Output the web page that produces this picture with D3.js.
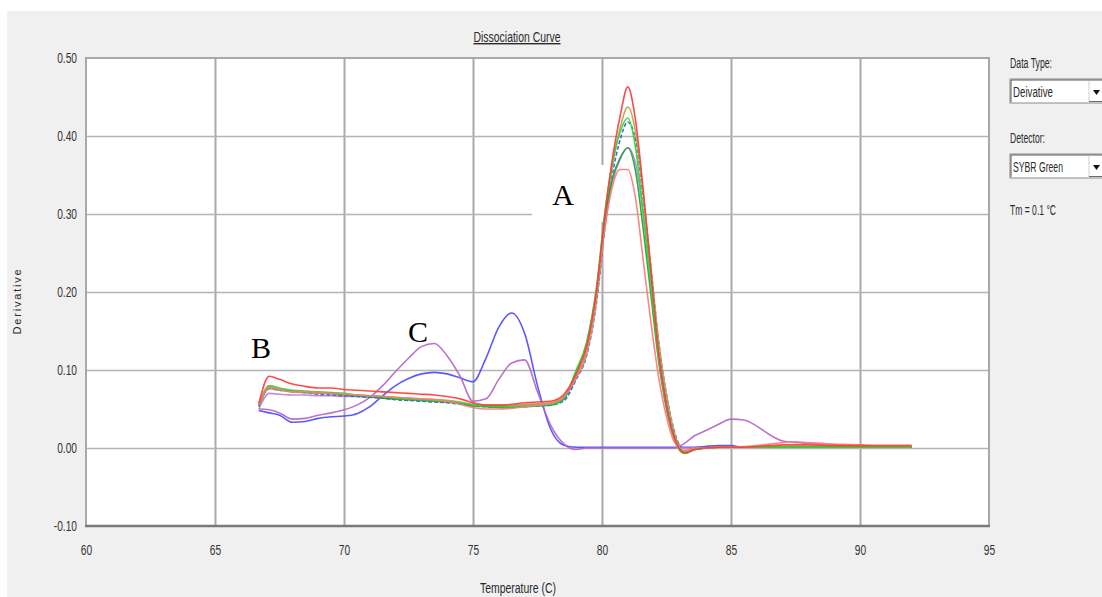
<!DOCTYPE html>
<html>
<head>
<meta charset="utf-8">
<script src="https://cdn.jsdelivr.net/npm/d3@7"></script>
<style>
  html, body { margin: 0; padding: 0; background: #ffffff; }
  svg { display: block; }
  .tick text { font-family: "Liberation Sans", Arial, sans-serif; fill: #333333; }
  .ui { font-family: "Liberation Sans", Arial, sans-serif; fill: #2a2a2a; }
  .ann { font-family: "Liberation Serif", "DejaVu Serif", serif; fill: #000; }
</style>
</head>
<body>
<svg id="chart" width="1102" height="597"></svg>
<script>
// ---------------- DATA ----------------
const temps = [66.7, 67.1, 67.5, 68.0, 68.5, 69.0, 69.5, 70.0, 70.5, 71.0, 71.5, 72.0, 72.5, 73.0, 73.5, 74.0, 74.5, 75.0, 75.5, 76.0, 76.5, 77.0, 77.5, 78.0, 78.5,
               79.0, 79.4, 79.8, 80.1, 80.4, 80.7, 81.0, 81.3, 81.6, 81.9, 82.2, 82.5, 82.8, 83.2, 83.6, 84.0,
               84.5, 85.0, 85.5, 86.0, 86.5, 87.0, 87.5, 88.0, 89.0, 90.0, 91.0, 92.0];

const redHigh = [0.057, 0.092, 0.088, 0.082, 0.079, 0.077, 0.077, 0.075, 0.074, 0.073, 0.072, 0.071, 0.070, 0.069, 0.068, 0.066, 0.063, 0.058, 0.055, 0.055, 0.056, 0.058, 0.059, 0.060, 0.068,
                 0.095, 0.130, 0.205, 0.295, 0.370, 0.425, 0.463, 0.420, 0.330, 0.225, 0.120, 0.055, 0.014, -0.006, -0.002, 0.000,
                 0.001, 0.001, 0.001, 0.002, 0.003, 0.004, 0.004, 0.004, 0.003, 0.003, 0.003, 0.003];

const pinkLow = [0.055, 0.078, 0.075, 0.072, 0.072, 0.071, 0.070, 0.069, 0.068, 0.067, 0.066, 0.065, 0.064, 0.063, 0.062, 0.060, 0.056, 0.052, 0.050, 0.050, 0.051, 0.053, 0.055, 0.057, 0.065,
                 0.092, 0.125, 0.200, 0.280, 0.335, 0.357, 0.357, 0.320, 0.240, 0.160, 0.090, 0.040, 0.008, -0.003, 0.000, 0.000,
                 0.001, 0.001, 0.002, 0.003, 0.005, 0.007, 0.008, 0.007, 0.005, 0.004, 0.003, 0.003];

const olive = [0.058, 0.076, 0.074, 0.072, 0.071, 0.070, 0.070, 0.069, 0.068, 0.067, 0.066, 0.065, 0.064, 0.063, 0.062, 0.061, 0.059, 0.056, 0.055, 0.055, 0.055, 0.056, 0.057, 0.058, 0.066,
               0.090, 0.120, 0.195, 0.285, 0.360, 0.410, 0.437, 0.405, 0.325, 0.230, 0.135, 0.068, 0.020, -0.005, -0.001, 0.000,
               0.001, 0.001, 0.001, 0.001, 0.002, 0.002, 0.002, 0.002, 0.002, 0.002, 0.002, 0.002];

const green = [0.055, 0.080, 0.077, 0.074, 0.073, 0.072, 0.071, 0.070, 0.068, 0.067, 0.066, 0.064, 0.063, 0.062, 0.061, 0.060, 0.058, 0.055, 0.054, 0.053, 0.053, 0.054, 0.055, 0.056, 0.063,
               0.100, 0.135, 0.210, 0.300, 0.365, 0.405, 0.423, 0.385, 0.300, 0.205, 0.115, 0.052, 0.012, -0.007, -0.002, 0.000,
               0.001, 0.001, 0.001, 0.001, 0.001, 0.001, 0.001, 0.001, 0.001, 0.001, 0.001, 0.001];

const teal = [0.054, 0.076, 0.074, 0.072, 0.071, 0.069, 0.068, 0.067, 0.066, 0.065, 0.064, 0.062, 0.061, 0.060, 0.059, 0.058, 0.056, 0.054, 0.053, 0.052, 0.052, 0.053, 0.054, 0.055, 0.060,
              0.088, 0.118, 0.190, 0.280, 0.350, 0.395, 0.418, 0.395, 0.320, 0.230, 0.135, 0.068, 0.022, -0.004, 0.000, 0.000,
              0.001, 0.001, 0.001, 0.001, 0.001, 0.001, 0.001, 0.001, 0.001, 0.001, 0.001, 0.001];

const darkGreen = [0.053, 0.078, 0.075, 0.073, 0.072, 0.071, 0.070, 0.068, 0.067, 0.066, 0.064, 0.063, 0.062, 0.061, 0.060, 0.059, 0.057, 0.054, 0.053, 0.052, 0.052, 0.053, 0.054, 0.055, 0.062,
                   0.098, 0.133, 0.205, 0.290, 0.345, 0.372, 0.385, 0.355, 0.280, 0.195, 0.110, 0.050, 0.012, -0.007, -0.002, 0.000,
                   0.001, 0.001, 0.001, 0.001, 0.001, 0.001, 0.001, 0.001, 0.001, 0.001, 0.001, 0.001];

const violet = [0.050, 0.070, 0.069, 0.068, 0.068, 0.067, 0.067, 0.066, 0.066, 0.065, 0.064, 0.063, 0.062, 0.061, 0.060, 0.059, 0.057, 0.055, 0.054, 0.054, 0.054, 0.055, 0.056, 0.057, 0.064,
                0.090, 0.122, 0.195, 0.280, 0.340, 0.370, 0.385, 0.365, 0.300, 0.215, 0.125, 0.060, 0.016, 0.000, 0.000, 0.000,
                0.001, 0.001, 0.001, 0.001, 0.001, 0.002, 0.002, 0.002, 0.002, 0.002, 0.002, 0.002];

const blueB = [0.048, 0.045, 0.042, 0.033, 0.034, 0.038, 0.040, 0.041, 0.044, 0.053, 0.067, 0.080, 0.089, 0.095, 0.097, 0.095, 0.090, 0.085, 0.115, 0.155, 0.173, 0.147, 0.080, 0.025, 0.004,
               0.001, 0.001, 0.001, 0.001, 0.001, 0.001, 0.001, 0.001, 0.001, 0.001, 0.001, 0.001, 0.001, 0.001, 0.001, 0.002,
               0.003, 0.003, 0.001, 0.001, 0.001, 0.001, 0.001, 0.001, 0.001, 0.001, 0.001, 0.001];

const purpleC = [0.050, 0.049, 0.045, 0.037, 0.038, 0.042, 0.045, 0.049, 0.055, 0.065, 0.080, 0.098, 0.115, 0.130, 0.134, 0.118, 0.092, 0.060, 0.063, 0.088, 0.109, 0.113, 0.072, 0.030, 0.006,
                 -0.002, 0.000, 0.000, 0.000, 0.000, 0.000, 0.000, 0.000, 0.000, 0.000, 0.000, 0.000, 0.000, 0.006, 0.016, 0.022,
                 0.030, 0.037, 0.036, 0.028, 0.017, 0.009, 0.007, 0.006, 0.004, 0.003, 0.002, 0.002];

const xTicks = [60, 65, 70, 75, 80, 85, 90, 95];
const yTicks = [-0.10, 0.00, 0.10, 0.20, 0.30, 0.40, 0.50];

// ---------------- STYLES ----------------
const series = [
  { values: blueB,     color: "#4b4bff", dash: null },
  { values: purpleC,   color: "#b466c8", dash: null },
  { values: violet,    color: "#b884e0", dash: null },
  { values: teal,      color: "#2f62d4", dash: "4,2" },
  { values: olive,     color: "#b9a458", dash: null },
  { values: darkGreen, color: "#1ea43a", dash: null },
  { values: green,     color: "#2fd72f", dash: null },
  { values: pinkLow,   color: "#ff7a7a", dash: null },
  { values: redHigh,   color: "#ff3c3c", dash: null }
];

const svg = d3.select("#chart");
const W = 1102, H = 597;
const plot = { left: 86, right: 989, top: 58, bottom: 526 };

// squeeze text horizontally to mimic the condensed UI font
function squeeze(sel, k) {
  sel.each(function () {
    const w = this.getComputedTextLength();
    d3.select(this).attr("textLength", w * k).attr("lengthAdjust", "spacingAndGlyphs");
  });
}
function fitTo(sel, w) {
  sel.attr("textLength", w).attr("lengthAdjust", "spacingAndGlyphs");
}

svg.append("rect").attr("x", 0).attr("y", 0).attr("width", W).attr("height", H).attr("fill", "#ffffff");
svg.append("rect").attr("x", 7).attr("y", 11).attr("width", W - 7).attr("height", H - 11).attr("fill", "#f0f0f0");

const x = d3.scaleLinear().domain([60, 95]).range([plot.left, plot.right]);
const y = d3.scaleLinear().domain([-0.10, 0.50]).range([plot.bottom, plot.top]);

svg.append("rect")
  .attr("x", plot.left).attr("y", plot.top)
  .attr("width", plot.right - plot.left).attr("height", plot.bottom - plot.top)
  .attr("fill", "#ffffff");

// grid
const gx = svg.append("g").attr("transform", `translate(0,${plot.bottom})`)
  .call(d3.axisBottom(x).tickValues(xTicks.slice(1, -1)).tickSize(-(plot.bottom - plot.top)).tickFormat(""));
gx.select(".domain").remove();
gx.selectAll("line").attr("stroke", "#a9a9a9").attr("stroke-width", 2);

const gy = svg.append("g").attr("transform", `translate(${plot.left},0)`)
  .call(d3.axisLeft(y).tickValues(yTicks.slice(1, -1)).tickSize(-(plot.right - plot.left)).tickFormat(""));
gy.select(".domain").remove();
gy.selectAll("line").attr("stroke", "#b4b4b4").attr("stroke-width", 1.6);

// white patch behind the "A" label
svg.append("rect").attr("x", 532).attr("y", 165).attr("width", 72).attr("height", 57).attr("fill", "#ffffff");

// curves
const line = d3.line()
  .x((d, i) => x(temps[i]))
  .y(d => y(d))
  .curve(d3.curveMonotoneX);

svg.append("g").selectAll("path").data(series).join("path")
  .attr("d", s => line(s.values))
  .attr("fill", "none")
  .attr("stroke", s => s.color)
  .attr("stroke-width", 1.6)
  .attr("stroke-linejoin", "round")
  .attr("stroke-dasharray", s => s.dash)
  .attr("opacity", 0.92);

// border
svg.append("path")
  .attr("d", `M${plot.left},${plot.bottom} L${plot.left},${plot.top} L${plot.right},${plot.top} L${plot.right},${plot.bottom}`)
  .attr("fill", "none").attr("stroke", "#a8a8a8").attr("stroke-width", 2);
svg.append("line")
  .attr("x1", plot.left - 1).attr("x2", plot.right + 1).attr("y1", plot.bottom).attr("y2", plot.bottom)
  .attr("stroke", "#7a7a7a").attr("stroke-width", 2.5);

// tick labels
const fmtY = v => d3.format(".2f")(v).replace("\u2212", "-");
const ax = svg.append("g").attr("transform", `translate(0,${plot.bottom})`)
  .call(d3.axisBottom(x).tickValues(xTicks).tickSize(0).tickPadding(18).tickFormat(d3.format("d")));
ax.select(".domain").remove();
ax.selectAll("text").attr("font-size", 15).call(squeeze, 0.68);

const ay = svg.append("g").attr("transform", `translate(${plot.left},0)`)
  .call(d3.axisLeft(y).tickValues(yTicks).tickSize(0).tickPadding(9).tickFormat(fmtY));
ay.select(".domain").remove();
ay.selectAll("text").attr("font-size", 15).call(squeeze, 0.68);

// titles
svg.append("text").attr("class", "ui").attr("x", 517).attr("y", 42)
  .attr("text-anchor", "middle").attr("font-size", 14).attr("text-decoration", "underline")
  .text("Dissociation Curve").call(fitTo, 87);
svg.append("text").attr("class", "ui").attr("x", 518).attr("y", 593)
  .attr("text-anchor", "middle").attr("font-size", 14)
  .text("Temperature (C)").call(fitTo, 76);
svg.append("text")
  .attr("transform", "translate(21,301) rotate(-90)")
  .attr("text-anchor", "middle")
  .attr("font-family", "Liberation Sans, Arial, sans-serif")
  .attr("font-size", 11).attr("letter-spacing", 1.8).attr("fill", "#2a2a2a")
  .text("Derivative");

// annotations
svg.append("text").attr("class", "ann").attr("x", 563).attr("y", 205).attr("text-anchor", "middle").attr("font-size", 30).text("A");
svg.append("text").attr("class", "ann").attr("x", 261).attr("y", 358).attr("text-anchor", "middle").attr("font-size", 30).text("B");
svg.append("text").attr("class", "ann").attr("x", 418).attr("y", 342).attr("text-anchor", "middle").attr("font-size", 30).text("C");

// right-hand control panel
function dropdown(yTop, label, w) {
  const g = svg.append("g");
  g.append("rect").attr("x", 1010).attr("y", yTop).attr("width", 100).attr("height", 24)
    .attr("fill", "#ffffff").attr("stroke", "#8a8a8a").attr("stroke-width", 1);
  g.append("path").attr("d", `M1011,${yTop + 23} L1011,${yTop + 1} L1102,${yTop + 1}`)
    .attr("fill", "none").attr("stroke", "#5a5a5a").attr("stroke-width", 1);
  g.append("line").attr("x1", 1089).attr("x2", 1089).attr("y1", yTop + 2).attr("y2", yTop + 23)
    .attr("stroke", "#d0d0d0");
  g.append("line").attr("x1", 1089).attr("x2", 1102).attr("y1", yTop + 22.5).attr("y2", yTop + 22.5)
    .attr("stroke", "#6a6a6a");
  g.append("path").attr("d", `M1093,${yTop + 11} L1100,${yTop + 11} L1096.5,${yTop + 16} Z`).attr("fill", "#111");
  g.append("text").attr("class", "ui").attr("x", 1013).attr("y", yTop + 18).attr("font-size", 14).text(label).call(fitTo, w);
}
svg.append("text").attr("class", "ui").attr("x", 1010).attr("y", 68).attr("font-size", 14).text("Data Type:").call(fitTo, 42);
dropdown(79, "Deivative", 40);
svg.append("text").attr("class", "ui").attr("x", 1010).attr("y", 143).attr("font-size", 14).text("Detector:").call(fitTo, 35);
dropdown(154, "SYBR Green", 50);
svg.append("text").attr("class", "ui").attr("x", 1010).attr("y", 215).attr("font-size", 14).text("Tm = 0.1 °C").call(fitTo, 46);
</script>
</body>
</html>
